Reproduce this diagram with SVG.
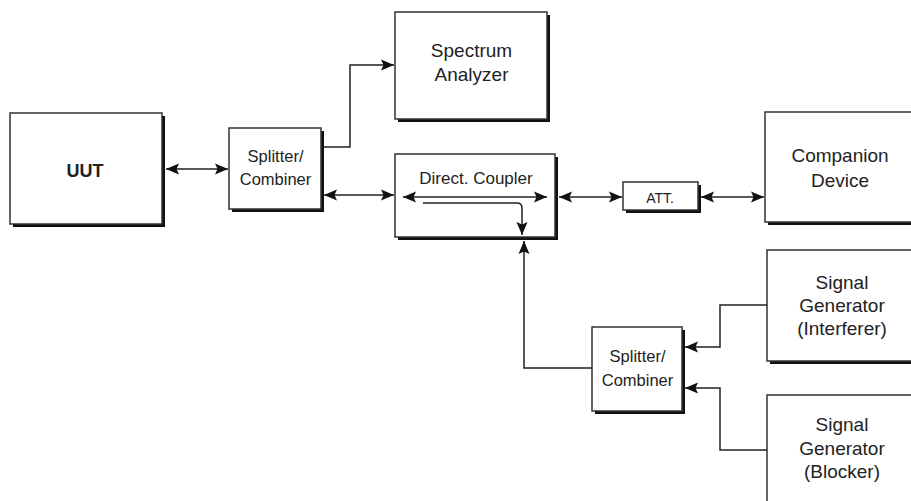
<svg xmlns="http://www.w3.org/2000/svg" width="911" height="501" viewBox="0 0 911 501">
<style>
.box{fill:#fff;stroke:#333;stroke-width:1.5}
.sh{fill:none;stroke:#111;stroke-width:3}
.t{font-family:"Liberation Sans",Arial,sans-serif;fill:#222;text-anchor:middle}
.ln{fill:none;stroke:#222;stroke-width:1.5}
</style>
<defs>
<marker id="ah" viewBox="0 0 13 12" refX="13" refY="6" markerWidth="13" markerHeight="12" markerUnits="userSpaceOnUse" orient="auto-start-reverse">
<path d="M0,0.5 L13,6 L0,11.5 L2.5,6 z" fill="#111"/>
</marker>
</defs>
<rect width="911" height="501" fill="#fff"/>
<g id="uut">
<path class="sh" d="M163.5,116 V225.5 H13"/>
<rect class="box" x="10" y="113" width="152" height="111"/>
<text class="t" x="85" y="177" font-size="18" font-weight="bold">UUT</text>
</g>
<g id="splitter1">
<path class="sh" d="M322.5,131 V210.5 H232"/>
<rect class="box" x="229" y="128" width="92" height="81"/>
<text class="t" x="275.5" y="162" font-size="16.5">Splitter/</text>
<text class="t" x="275.5" y="185" font-size="16.5">Combiner</text>
</g>
<g id="spectrum">
<path class="sh" d="M548.5,15 V120.5 H398"/>
<rect class="box" x="395" y="12" width="152" height="107"/>
<text class="t" x="471.5" y="57" font-size="19">Spectrum</text>
<text class="t" x="471.5" y="81" font-size="19">Analyzer</text>
</g>
<g id="coupler">
<path class="sh" d="M556.5,157 V238.5 H398"/>
<rect class="box" x="395" y="154" width="160" height="83"/>
<text class="t" x="476" y="184" font-size="17">Direct. Coupler</text>
</g>
<g id="att">
<path class="sh" d="M699.5,185 V211.5 H626"/>
<rect class="box" x="623" y="182" width="75" height="28"/>
<text class="t" x="660" y="203" font-size="14">ATT.</text>
</g>
<g id="companion">
<path class="sh" d="M768,223.5 H915"/>
<rect class="box" x="765" y="112" width="160" height="110"/>
<text class="t" x="840" y="162" font-size="19">Companion</text>
<text class="t" x="840" y="187" font-size="19">Device</text>
</g>
<g id="splitter2">
<path class="sh" d="M683.5,330 V412.5 H595"/>
<rect class="box" x="592" y="327" width="90" height="84"/>
<text class="t" x="637.5" y="362" font-size="16.5">Splitter/</text>
<text class="t" x="637.5" y="386" font-size="16.5">Combiner</text>
</g>
<g id="interferer">
<path class="sh" d="M770,362.5 H915"/>
<rect class="box" x="767" y="250" width="160" height="111"/>
<text class="t" x="842" y="289" font-size="19">Signal</text>
<text class="t" x="842" y="312" font-size="19">Generator</text>
<text class="t" x="842" y="335" font-size="19">(Interferer)</text>
</g>
<g id="blocker">
<rect class="box" x="767" y="395" width="160" height="120"/>
<text class="t" x="842" y="431" font-size="19">Signal</text>
<text class="t" x="842" y="455" font-size="19">Generator</text>
<text class="t" x="842" y="478" font-size="19">(Blocker)</text>
</g>
<g id="connectors">
<path class="ln" d="M166,169 H228" marker-start="url(#ah)" marker-end="url(#ah)"/>
<path class="ln" d="M324,147 H350 V65 H394" marker-end="url(#ah)"/>
<path class="ln" d="M324,195 H394" marker-start="url(#ah)" marker-end="url(#ah)"/>
<path class="ln" d="M403,197 H547" marker-start="url(#ah)" marker-end="url(#ah)"/>
<path class="ln" d="M423,203 H517 Q522,203 522,208 V235" marker-end="url(#ah)"/>
<path class="ln" d="M592,368 H524 V241" marker-end="url(#ah)"/>
<path class="ln" d="M559,197 H622" marker-start="url(#ah)" marker-end="url(#ah)"/>
<path class="ln" d="M701,197 H764" marker-start="url(#ah)" marker-end="url(#ah)"/>
<path class="ln" d="M767,305 H720 V347 H685" marker-end="url(#ah)"/>
<path class="ln" d="M767,450 H720 V388 H685" marker-end="url(#ah)"/>
</g>
</svg>
